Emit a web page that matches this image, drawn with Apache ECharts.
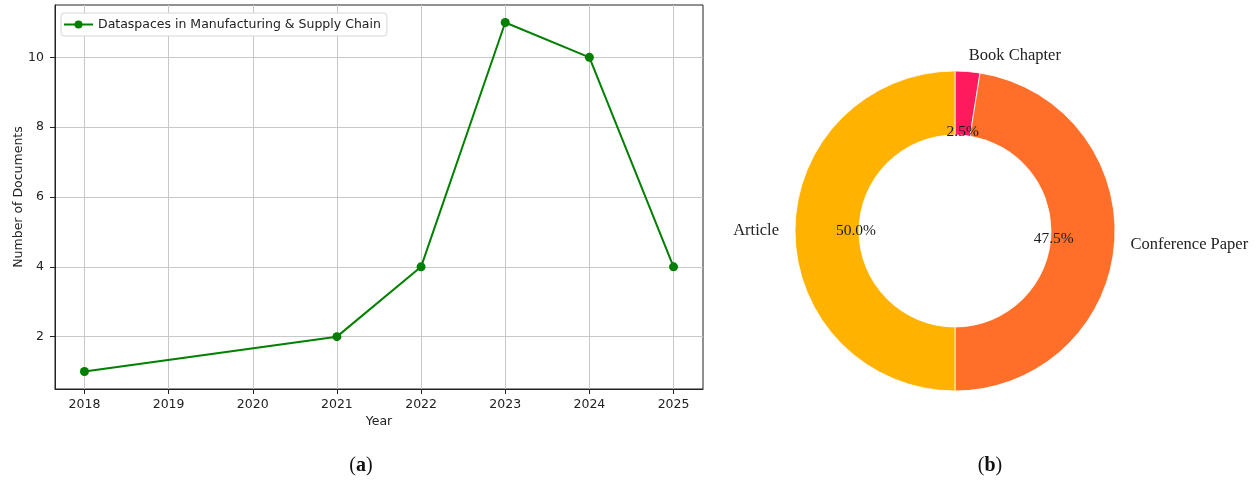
<!DOCTYPE html>
<html>
<head>
<meta charset="utf-8">
<script src="https://cdn.jsdelivr.net/npm/echarts@6/dist/echarts.min.js"></script>
<style>
  html, body { margin: 0; padding: 0; background: #fff; }
  #chart { width: 1256px; height: 487px; }
</style>
</head>
<body>
<div id="chart"></div>
<script>
// Yearly document counts
const years = [2018, 2021, 2022, 2023, 2024, 2025];
const documents = [1, 2, 4, 11, 10, 4];
const yearTicks = [2018, 2019, 2020, 2021, 2022, 2023, 2024, 2025];
const countTicks = [2, 4, 6, 8, 10];
const seriesName = 'Dataspaces in Manufacturing & Supply Chain';

// Document types (clockwise from 12 o'clock)
const docTypes = ['Book Chapter', 'Conference Paper', 'Article'];
const docTypeCounts = [1, 19, 20];
const docTypeColors = ['#FF1A5E', '#FF6F2A', '#FFB300'];

const sans = '"DejaVu Sans", sans-serif';
const serif = '"Liberation Serif", "DejaVu Serif", serif';
const axisFont = 12.5;

const pieData = docTypes.map((n, i) => ({
  name: n, value: docTypeCounts[i], itemStyle: { color: docTypeColors[i] }
}));

const chart = echarts.init(document.getElementById('chart'), null, { renderer: 'canvas' });

chart.setOption({
  animation: false,
  backgroundColor: '#fff',
  grid: {
    left: 55, right: 553, top: 5, bottom: 98,
    containLabel: false, outerBoundsMode: 'none',
    show: true, borderColor: '#222', borderWidth: 1, backgroundColor: 'transparent'
  },
  legend: {
    data: [seriesName],
    left: 61, top: 13,
    orient: 'vertical',
    backgroundColor: '#fff',
    borderColor: '#d6d6d6', borderWidth: 1, borderRadius: 3,
    padding: [5, 6, 5, 2],
    itemWidth: 29, itemHeight: 10, itemGap: 6,
    textStyle: { fontFamily: sans, fontSize: axisFont, color: '#222' }
  },
  xAxis: {
    type: 'value',
    min: 2017.65, max: 2025.35,
    name: 'Year', nameLocation: 'middle', nameGap: 26, nameMoveOverlap: false,
    nameTextStyle: { fontFamily: sans, fontSize: axisFont, color: '#222', verticalAlign: 'top' },
    axisLine: { show: true, lineStyle: { color: '#222' } },
    axisTick: { show: true, inside: false, length: 5, lineStyle: { color: '#222' }, customValues: yearTicks },
    axisLabel: { fontFamily: sans, fontSize: axisFont, color: '#222', margin: 9, customValues: yearTicks, formatter: v => String(v) },
    splitLine: { show: true, lineStyle: { color: '#c8c8c8', width: 1 } }
  },
  yAxis: {
    type: 'value',
    min: 0.5, max: 11.5,
    name: 'Number of Documents', nameLocation: 'middle', nameGap: 30, nameMoveOverlap: false,
    nameTextStyle: { fontFamily: sans, fontSize: axisFont, color: '#222' },
    axisLine: { show: true, lineStyle: { color: '#222' } },
    axisTick: { show: true, inside: false, length: 5, lineStyle: { color: '#222' }, customValues: countTicks },
    axisLabel: { fontFamily: sans, fontSize: axisFont, color: '#222', margin: 11, customValues: countTicks },
    splitLine: { show: true, lineStyle: { color: '#c8c8c8', width: 1 } }
  },
  series: [
    {
      name: seriesName,
      type: 'line',
      data: years.map((y, i) => [y, documents[i]]),
      color: '#008000',
      lineStyle: { color: '#008000', width: 2 },
      itemStyle: { color: '#008000' },
      symbol: 'circle', symbolSize: 9, showSymbol: true,
      z: 5
    },
    {
      // donut ring with category names outside
      name: 'Document Types',
      type: 'pie',
      center: [955, 231],
      radius: [96, 160],
      startAngle: 90, clockwise: true,
      avoidLabelOverlap: false,
      data: pieData,
      itemStyle: { borderColor: '#fff', borderWidth: 0.8 },
      label: {
        show: true, position: 'outside', distanceToLabelLine: 0,
        fontFamily: serif, fontSize: 16.5, color: '#222'
      },
      labelLine: { show: false, length: 16, length2: 0 },
      emphasis: { disabled: true }
    },
    {
      // percentage labels along the inner edge of the ring
      name: 'Document Type Shares',
      type: 'pie',
      center: [955, 231],
      radius: [0, 192],
      startAngle: 90, clockwise: true,
      silent: true,
      avoidLabelOverlap: false,
      data: pieData.map(d => ({ name: d.name, value: d.value })),
      itemStyle: { color: 'transparent', borderWidth: 0 },
      label: {
        show: true, position: 'inside',
        fontFamily: serif, fontSize: 15.5, color: '#1a1a1a',
        formatter: p => p.percent.toFixed(1) + '%'
      },
      labelLine: { show: false },
      emphasis: { disabled: true },
      z: 10
    }
  ],
  graphic: [
    {
      type: 'text', x: 361, y: 466,
      style: {
        text: '{p|(}{b|a}{p|)}', align: 'center', verticalAlign: 'middle',
        rich: {
          p: { fontFamily: serif, fontSize: 20, fill: '#111' },
          b: { fontFamily: serif, fontSize: 20, fontWeight: 'bold', fill: '#111' }
        }
      }
    },
    {
      type: 'text', x: 990, y: 466,
      style: {
        text: '{p|(}{b|b}{p|)}', align: 'center', verticalAlign: 'middle',
        rich: {
          p: { fontFamily: serif, fontSize: 20, fill: '#111' },
          b: { fontFamily: serif, fontSize: 20, fontWeight: 'bold', fill: '#111' }
        }
      }
    }
  ]
});
</script>
</body>
</html>
